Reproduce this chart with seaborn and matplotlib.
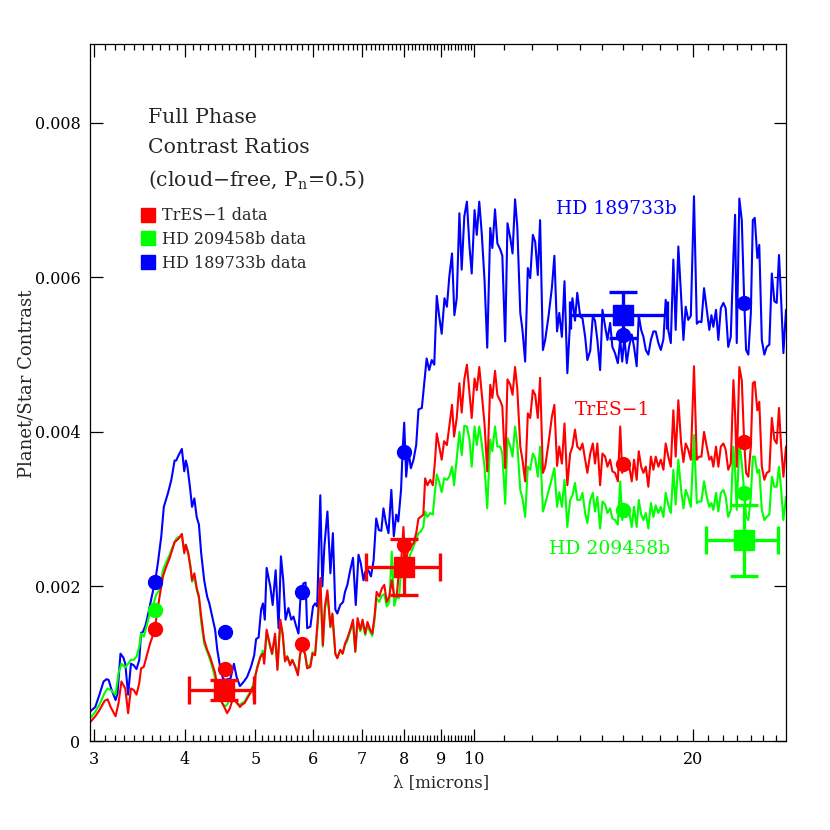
import numpy as np
import pandas as pd
import matplotlib
matplotlib.use("Agg")
import matplotlib.pyplot as plt
import seaborn as sns
from matplotlib.ticker import FixedLocator, FixedFormatter, NullFormatter
from matplotlib.lines import Line2D

SCALE = 1e-3  # contrast values below are in units of 1e-3

# ---------------- model spectra ----------------
# HD 189733b, short-wavelength part (microns, contrast x1e3)
lam_blue_short = [2.96, 3.01, 3.05, 3.09, 3.12, 3.14, 3.17, 3.21, 3.23, 3.26, 3.29, 3.31, 3.34, 3.37, 3.40,
                  3.43, 3.46, 3.48, 3.50, 3.53, 3.56, 3.60, 3.64, 3.67, 3.71, 3.74, 3.79, 3.83, 3.87, 3.89,
                  3.92, 3.96, 3.99, 4.01, 4.03, 4.06, 4.09, 4.12, 4.15, 4.18, 4.21, 4.25, 4.29, 4.32, 4.36,
                  4.40, 4.43, 4.47, 4.51, 4.54, 4.62, 4.67, 4.71, 4.76, 4.82, 4.87, 4.93, 4.98, 5.01, 5.05,
                  5.09, 5.12, 5.15, 5.18, 5.24, 5.28, 5.33, 5.38, 5.42, 5.46, 5.50, 5.55, 5.60, 5.64, 5.69,
                  5.73, 5.77, 5.82, 5.86, 5.89, 5.95, 6.00, 6.04, 6.08, 6.14, 6.18, 6.22, 6.28, 6.34, 6.39,
                  6.44, 6.48, 6.54, 6.60, 6.64, 6.69, 6.75, 6.81, 6.87, 6.93, 6.98, 7.04, 7.08, 7.15, 7.21,
                  7.27, 7.33, 7.39, 7.45, 7.50, 7.56, 7.62, 7.69, 7.75, 7.81, 7.86, 7.93, 7.97, 8.01, 8.06,
                  8.12, 8.18, 8.25, 8.32, 8.38, 8.47, 8.60, 8.67, 8.74, 8.81, 8.88, 8.95, 9.02, 9.10, 9.17,
                  9.24, 9.32, 9.39, 9.46]
con_blue_short = [0.38, 0.44, 0.60, 0.77, 0.80, 0.79, 0.66, 0.53, 0.62, 1.13, 1.08, 1.00, 0.60, 1.00, 0.98,
                  0.93, 1.05, 1.40, 1.41, 1.50, 1.65, 1.87, 2.08, 2.30, 2.65, 3.03, 3.21, 3.38, 3.63, 3.63,
                  3.70, 3.78, 3.49, 3.63, 3.55, 3.31, 3.03, 3.14, 2.90, 2.80, 2.43, 2.08, 1.87, 1.78, 1.61,
                  1.44, 1.18, 0.96, 0.81, 0.79, 0.81, 1.00, 0.83, 0.71, 0.77, 0.83, 0.96, 1.11, 1.32, 1.34,
                  1.70, 1.78, 1.57, 2.24, 2.00, 1.76, 2.21, 1.46, 2.39, 2.08, 1.57, 1.72, 1.57, 1.61, 1.48,
                  1.39, 1.91, 2.04, 2.05, 1.46, 1.48, 1.74, 1.78, 1.74, 3.18, 2.00, 2.52, 2.97, 2.17, 2.69,
                  1.70, 1.65, 1.76, 1.80, 1.93, 2.02, 2.21, 2.37, 1.76, 2.41, 2.30, 2.08, 2.19, 2.21, 2.13,
                  2.34, 2.88, 2.73, 2.72, 3.01, 2.82, 2.69, 3.25, 2.65, 2.93, 2.84, 3.25, 3.77, 4.12, 3.42,
                  3.75, 3.53, 3.64, 3.83, 4.29, 4.31, 4.95, 4.80, 4.93, 4.87, 5.76, 5.49, 5.27, 5.73, 5.62,
                  6.01, 6.31, 5.51, 5.73]

# TrES-1 and HD 209458b, short-wavelength part (shared wavelength grid)
lam_rg_short = [2.96, 3.01, 3.05, 3.10, 3.13, 3.16, 3.21, 3.24, 3.27, 3.31, 3.34, 3.37, 3.40, 3.43, 3.46,
                3.48, 3.51, 3.54, 3.58, 3.62, 3.65, 3.69, 3.73, 3.77, 3.81, 3.84, 3.87, 3.89, 3.92, 3.96,
                3.99, 4.01, 4.04, 4.07, 4.09, 4.12, 4.15, 4.18, 4.21, 4.25, 4.29, 4.33, 4.36, 4.40, 4.43,
                4.47, 4.50, 4.54, 4.57, 4.61, 4.64, 4.68, 4.72, 4.76, 4.79, 4.83, 4.87, 4.92, 4.96, 4.98,
                5.00, 5.03, 5.08, 5.12, 5.14, 5.18, 5.23, 5.27, 5.32, 5.36, 5.41, 5.45, 5.49, 5.53, 5.58,
                5.62, 5.67, 5.72, 5.76, 5.80, 5.85, 5.89, 5.95, 5.99, 6.04, 6.09, 6.14, 6.19, 6.23, 6.28,
                6.34, 6.38, 6.44, 6.48, 6.54, 6.59, 6.64, 6.69, 6.75, 6.81, 6.86, 6.91, 6.97, 7.02, 7.08,
                7.13, 7.19, 7.24, 7.29, 7.34, 7.40, 7.46, 7.52, 7.58, 7.64, 7.70, 7.76, 7.82, 7.88, 7.93,
                7.99, 8.04, 8.11, 8.18, 8.25, 8.32, 8.38, 8.44, 8.51, 8.56, 8.62, 8.70, 8.77, 8.83, 8.88,
                8.95, 9.02, 9.09, 9.17, 9.24, 9.32, 9.38, 9.46]
con_red_short = [0.24, 0.32, 0.40, 0.52, 0.54, 0.44, 0.32, 0.49, 0.77, 0.68, 0.36, 0.68, 0.66, 0.60, 0.75,
                 0.94, 0.96, 1.09, 1.26, 1.39, 1.57, 1.87, 2.13, 2.26, 2.37, 2.47, 2.58, 2.59, 2.62, 2.68,
                 2.43, 2.54, 2.43, 2.24, 2.08, 2.17, 1.98, 1.87, 1.61, 1.31, 1.18, 1.09, 1.00, 0.88, 0.70,
                 0.57, 0.49, 0.42, 0.36, 0.42, 0.51, 0.53, 0.49, 0.44, 0.47, 0.49, 0.55, 0.62, 0.70, 0.50,
                 0.85, 0.95, 1.09, 1.13, 1.00, 1.44, 1.26, 1.13, 1.39, 0.92, 1.57, 1.39, 1.03, 1.09, 0.98,
                 1.05, 0.96, 0.85, 1.13, 1.22, 1.13, 0.94, 0.96, 1.13, 1.11, 1.57, 2.11, 1.24, 1.74, 1.95,
                 1.48, 1.65, 1.13, 1.07, 1.18, 1.13, 1.26, 1.33, 1.44, 1.57, 1.16, 1.59, 1.44, 1.57, 1.39,
                 1.54, 1.44, 1.39, 1.61, 1.93, 1.87, 1.97, 2.02, 1.80, 1.87, 2.08, 1.87, 1.87, 2.21, 2.30,
                 2.77, 2.30, 2.47, 2.52, 2.56, 2.69, 2.88, 2.90, 2.93, 3.40, 3.31, 3.38, 3.31, 3.62, 3.98,
                 3.81, 3.64, 3.88, 3.83, 4.07, 4.35, 3.94, 4.18]
con_green_short = [0.29, 0.38, 0.47, 0.62, 0.68, 0.66, 0.60, 0.88, 1.00, 0.95, 1.00, 1.05, 1.05, 1.09, 1.22,
                   1.39, 1.35, 1.48, 1.67, 1.78, 1.89, 1.96, 2.21, 2.32, 2.41, 2.50, 2.56, 2.62, 2.64, 2.65,
                   2.47, 2.54, 2.45, 2.26, 2.06, 2.13, 1.96, 1.85, 1.54, 1.26, 1.16, 1.05, 0.96, 0.81, 0.66,
                   0.55, 0.49, 0.45, 0.47, 0.55, 0.56, 0.53, 0.48, 0.47, 0.49, 0.51, 0.57, 0.64, 0.72, 0.78,
                   0.86, 0.97, 1.10, 1.17, 1.05, 1.40, 1.24, 1.12, 1.36, 0.95, 1.52, 1.37, 1.05, 1.10, 1.00,
                   1.05, 0.97, 0.88, 1.12, 1.20, 1.12, 0.96, 0.99, 1.15, 1.13, 1.50, 2.00, 1.22, 1.70, 1.90,
                   1.47, 1.62, 1.12, 1.08, 1.17, 1.13, 1.24, 1.30, 1.42, 1.53, 1.15, 1.55, 1.42, 1.52, 1.37,
                   1.50, 1.41, 1.36, 1.56, 1.85, 1.80, 1.88, 1.90, 1.74, 1.80, 2.45, 1.75, 1.86, 1.85, 2.21,
                   2.30, 2.24, 2.34, 2.43, 2.52, 2.60, 2.69, 2.71, 2.77, 2.97, 2.90, 2.95, 2.93, 3.23, 3.45,
                   3.35, 3.22, 3.40, 3.38, 3.42, 3.55, 3.31, 3.66]

# long-wavelength part, shared grid for all three planets
lam_long = [9.54, 9.61, 9.69, 9.77, 9.85, 9.92, 10.01, 10.08, 10.16, 10.24, 10.33, 10.42, 10.52, 10.59, 10.68,
            10.76, 10.86, 10.93, 11.03, 11.11, 11.21, 11.29, 11.38, 11.46, 11.57, 11.65, 11.75, 11.85, 11.94, 12.04,
            12.13, 12.23, 12.32, 12.43, 12.52, 12.65, 12.79, 12.89,
            13.00, 13.09, 13.20, 13.31, 13.43, 13.55, 13.65, 13.76, 13.86, 13.99, 14.09, 14.21, 14.31, 14.44, 14.56,
            14.66, 14.77, 14.90, 15.01, 15.14, 15.25, 15.38, 15.49, 15.62, 15.76, 15.88, 15.98, 16.09, 16.21, 16.33,
            16.47, 16.59, 16.73, 16.84, 16.97, 17.09, 17.22, 17.36, 17.50, 17.64, 17.77, 17.92, 18.06, 18.21, 18.34,
            18.49, 18.64, 18.79, 18.93, 19.09, 19.26, 19.40, 19.54, 19.70, 19.86, 20.06,
            20.24, 20.39, 20.54, 20.71, 20.89, 21.06, 21.20, 21.33, 21.51, 21.67, 21.84, 22.02, 22.18, 22.36, 22.54,
            22.73, 22.85, 22.97, 23.16, 23.34, 23.51, 23.66, 23.83, 24.02, 24.17, 24.32, 24.52, 24.67, 24.87, 25.07,
            25.26, 25.47, 25.67, 25.88, 26.07, 26.26, 26.44, 26.63, 26.85]
con_blue_long = [6.83, 6.10, 6.79, 6.98, 6.40, 6.05, 6.87, 6.55, 6.98, 6.57, 5.97, 5.09, 6.64, 6.38, 6.88,
                 6.44, 6.36, 6.28, 5.17, 6.70, 6.51, 6.31, 7.01, 6.66, 5.54, 5.32, 4.91, 6.12, 5.99, 6.55,
                 6.46, 6.03, 6.74, 5.06, 5.19, 5.49, 5.87, 6.28,
                 5.30, 5.54, 5.23, 5.95, 4.76, 5.44, 5.73, 5.44, 5.80, 5.49, 5.47, 5.23, 4.93, 5.05, 5.50,
                 5.44, 5.19, 4.80, 5.58, 5.36, 5.19, 5.41, 5.10, 5.02, 4.89, 5.19, 4.91, 5.23, 4.89, 5.10,
                 5.26, 5.10, 4.85, 5.51, 5.32, 5.23, 5.06, 5.00, 5.19, 5.30, 5.30, 5.15, 5.06, 5.20, 5.71,
                 5.32, 5.15, 6.23, 5.32, 6.40, 5.75, 5.19, 5.62, 5.45, 5.50, 7.05,
                 5.40, 5.43, 5.42, 5.86, 5.58, 5.32, 5.51, 5.36, 5.58, 5.19, 5.60, 5.67, 5.60, 5.10, 5.23,
                 6.27, 6.81, 5.15, 7.02, 6.74, 5.75, 5.06, 5.00, 5.54, 6.74, 6.77, 6.25, 6.42, 5.19, 5.00,
                 5.10, 5.13, 6.05, 5.69, 5.67, 6.29, 5.71, 5.02, 5.58]
con_red_long = [4.63, 4.25, 4.68, 4.87, 4.50, 4.18, 4.69, 4.54, 4.84, 4.50, 4.11, 3.49, 4.61, 4.44, 4.79,
                4.48, 4.40, 4.33, 3.53, 4.68, 4.61, 4.48, 4.84, 4.56, 3.81, 3.64, 3.36, 4.24, 4.18, 4.54,
                4.48, 4.18, 4.70, 3.47, 3.55, 3.85, 4.20, 4.35,
                3.56, 3.81, 3.59, 4.11, 3.31, 3.72, 3.81, 4.03, 3.81, 3.77, 3.85, 3.64, 3.47, 3.72, 3.85,
                3.59, 3.85, 3.31, 3.72, 3.68, 3.55, 3.64, 3.49, 3.47, 3.36, 4.07, 3.47, 3.64, 3.51, 3.57,
                3.36, 3.64, 3.38, 3.75, 3.55, 3.47, 3.55, 3.29, 3.68, 3.51, 3.68, 3.55, 3.64, 3.51, 3.85,
                3.68, 3.55, 4.28, 3.68, 4.41, 3.85, 3.61, 3.85, 3.77, 3.64, 4.85,
                3.64, 3.68, 3.68, 4.00, 3.81, 3.64, 3.68, 3.55, 3.81, 3.55, 3.81, 3.85, 3.77, 3.51, 3.59,
                4.67, 4.24, 3.55, 4.84, 4.67, 3.90, 3.47, 3.42, 3.81, 4.63, 4.65, 4.28, 4.39, 3.55, 3.38,
                3.47, 3.49, 4.18, 3.90, 3.85, 4.31, 3.81, 3.42, 3.81]
con_green_long = [4.00, 3.70, 4.08, 4.07, 3.90, 3.55, 4.07, 3.83, 4.07, 3.85, 3.55, 3.01, 3.90, 3.75, 4.07,
                  3.81, 3.81, 3.72, 3.07, 3.92, 3.81, 3.68, 4.07, 3.85, 3.25, 3.14, 2.90, 3.55, 3.51, 3.72,
                  3.66, 3.42, 3.81, 2.97, 3.07, 3.23, 3.40, 3.53,
                  3.03, 3.22, 3.03, 3.38, 2.77, 3.12, 3.18, 3.34, 3.12, 3.12, 3.21, 2.95, 2.82, 3.12, 3.21,
                  2.97, 3.16, 2.75, 3.10, 3.06, 2.95, 3.01, 2.88, 2.86, 2.80, 3.36, 2.86, 3.01, 2.90, 2.97,
                  2.77, 3.03, 2.77, 3.12, 2.93, 2.86, 2.95, 2.75, 3.08, 2.90, 3.05, 2.95, 3.03, 2.90, 3.21,
                  3.06, 2.95, 3.51, 3.06, 3.64, 3.25, 3.01, 3.25, 3.16, 3.03, 3.96,
                  3.08, 3.10, 3.10, 3.36, 3.16, 3.03, 3.08, 2.99, 3.21, 2.97, 3.21, 3.25, 3.16, 2.90, 2.99,
                  3.81, 3.51, 2.99, 3.90, 3.59, 3.25, 2.90, 2.86, 3.16, 3.68, 3.68, 3.47, 3.51, 2.99, 2.86,
                  2.90, 2.93, 3.42, 3.29, 3.29, 3.55, 3.25, 2.86, 3.16]

# ---------------- band-averaged model points (circles) ----------------
band_lam_red = [3.64, 4.54, 5.80, 8.01, 16.0, 23.5]
band_con_red = [1.45, 0.93, 1.26, 2.54, 3.59, 3.875]
band_lam_green = [3.64, 16.0, 23.5]
band_con_green = [1.70, 2.99, 3.21]
band_lam_blue = [3.64, 4.54, 5.80, 8.01, 16.0, 23.5]
band_con_blue = [2.06, 1.415, 1.93, 3.745, 5.26, 5.67]

# ---------------- observations (squares with error bars) ----------------
obs_tres_lam = [4.53, 8.00]
obs_tres_lo = [4.05, 7.10]
obs_tres_hi = [4.97, 8.96]
obs_tres_con = [0.66, 2.25]
obs_tres_err = [0.13, 0.36]

obs_hd189_lam = [16.0]
obs_hd189_lo = [13.55]
obs_hd189_hi = [18.40]
obs_hd189_con = [5.51]
obs_hd189_err = [0.30]

obs_hd209_lam = [23.5]
obs_hd209_lo = [20.84]
obs_hd209_hi = [26.15]
obs_hd209_con = [2.60]
obs_hd209_err = [0.46]

x_major = [3, 4, 5, 6, 7, 8, 9, 10, 20]
x_major_labels = ["3", "4", "5", "6", "7", "8", "9", "10", "20"]
y_major = [0, 0.002, 0.004, 0.006, 0.008]
y_major_labels = ["0", "0.002", "0.004", "0.006", "0.008"]

BLUE, RED, GREEN = "#0000ff", "#ff0000", "#00ff00"

# ---------------- build tidy frame ----------------
frames = []
for name, lam, con in [("HD 189733b", lam_blue_short + lam_long, con_blue_short + con_blue_long),
                       ("HD 209458b", lam_rg_short + lam_long, con_green_short + con_green_long),
                       ("TrES-1", lam_rg_short + lam_long, con_red_short + con_red_long)]:
    frames.append(pd.DataFrame({"lam": lam, "contrast": np.array(con) * SCALE, "planet": name}))
df = pd.concat(frames, ignore_index=True)

sns.set_style("ticks")
plt.rcParams["font.family"] = ["DejaVu Serif"]
plt.rcParams["mathtext.fontset"] = "dejavuserif"

fig = plt.figure(figsize=(8.3, 8.3), dpi=100)
ax = fig.add_axes([90 / 830, 89 / 830, 696 / 830, 697 / 830])

sns.lineplot(data=df, x="lam", y="contrast", hue="planet",
             hue_order=["HD 189733b", "HD 209458b", "TrES-1"],
             palette={"HD 189733b": BLUE, "HD 209458b": GREEN, "TrES-1": RED},
             units="planet", estimator=None, sort=False, lw=1.5, legend=False, ax=ax)

ax.set_xscale("log")
ax.set_xlim(2.96, 26.85)
ax.set_ylim(0, 0.00902)

# circles
for lam, con, col in [(band_lam_blue, band_con_blue, BLUE),
                      (band_lam_green, band_con_green, GREEN),
                      (band_lam_red, band_con_red, RED)]:
    ax.plot(lam, np.array(con) * SCALE, "o", color=col, ms=10, mec=col, zorder=5)

# observations
for lam, lo, hi, con, err, col in [
        (obs_tres_lam, obs_tres_lo, obs_tres_hi, obs_tres_con, obs_tres_err, RED),
        (obs_hd189_lam, obs_hd189_lo, obs_hd189_hi, obs_hd189_con, obs_hd189_err, BLUE),
        (obs_hd209_lam, obs_hd209_lo, obs_hd209_hi, obs_hd209_con, obs_hd209_err, GREEN)]:
    lam = np.array(lam)
    xerr = [lam - np.array(lo), np.array(hi) - lam]
    ax.errorbar(lam, np.array(con) * SCALE, xerr=xerr, yerr=np.array(err) * SCALE,
                fmt="s", ms=15, color=col, mec=col, elinewidth=2.4, capsize=10, capthick=2.4, zorder=6)

# ticks
minor = [v / 10 for v in range(30, 100) if v % 10 != 0] + [11, 12, 13, 14, 15, 16, 17, 18, 19, 21, 22, 23, 24, 25, 26]
ax.xaxis.set_major_locator(FixedLocator(x_major))
ax.xaxis.set_major_formatter(FixedFormatter(x_major_labels))
ax.xaxis.set_minor_locator(FixedLocator(minor))
ax.xaxis.set_minor_formatter(NullFormatter())
ax.yaxis.set_major_locator(FixedLocator(y_major))
ax.yaxis.set_major_formatter(FixedFormatter(y_major_labels))
ax.tick_params(which="both", direction="in", top=True, right=True, width=0.9, colors="black")
ax.tick_params(which="major", length=9, labelsize=11.5, pad=7)
ax.tick_params(which="minor", length=4.5)
for s in ax.spines.values():
    s.set_linewidth(0.9)
    s.set_color("black")

ax.set_xlabel("λ [microns]", fontsize=12)
ax.set_ylabel("Planet/Star Contrast", fontsize=13)
ax.yaxis.set_label_coords(-0.0785, 0.512)
ax.xaxis.set_label_coords(0.505, -0.048)

# annotations
ax.text(0.0833, 0.895, "Full Phase", transform=ax.transAxes, fontsize=14.7, va="center")
ax.text(0.0833, 0.851, "Contrast Ratios", transform=ax.transAxes, fontsize=14.7, va="center")
ax.text(0.0833, 0.806, "(cloud\u2212free, P$_\\mathrm{n}$=0.5)", transform=ax.transAxes, fontsize=14.7, va="center")
ax.text(0.757, 0.763, "HD 189733b", transform=ax.transAxes, fontsize=13.5, color=BLUE, ha="center", va="center")
ax.text(0.751, 0.475, "TrES\u22121", transform=ax.transAxes, fontsize=13.5, color=RED, ha="center", va="center")
ax.text(0.746, 0.275, "HD 209458b", transform=ax.transAxes, fontsize=13.5, color=GREEN, ha="center", va="center")

handles = [Line2D([], [], ls="none", marker="s", ms=9.5, color=c) for c in (RED, GREEN, BLUE)]
ax.legend(handles, ["TrES\u22121 data", "HD 209458b data", "HD 189733b data"],
          loc="upper left", bbox_to_anchor=(0.073, 0.766), frameon=False, fontsize=11.5,
          handlelength=0.9, handletextpad=0.45, labelspacing=0.42, borderpad=0, borderaxespad=0)

fig.savefig("out.png", dpi=100)
